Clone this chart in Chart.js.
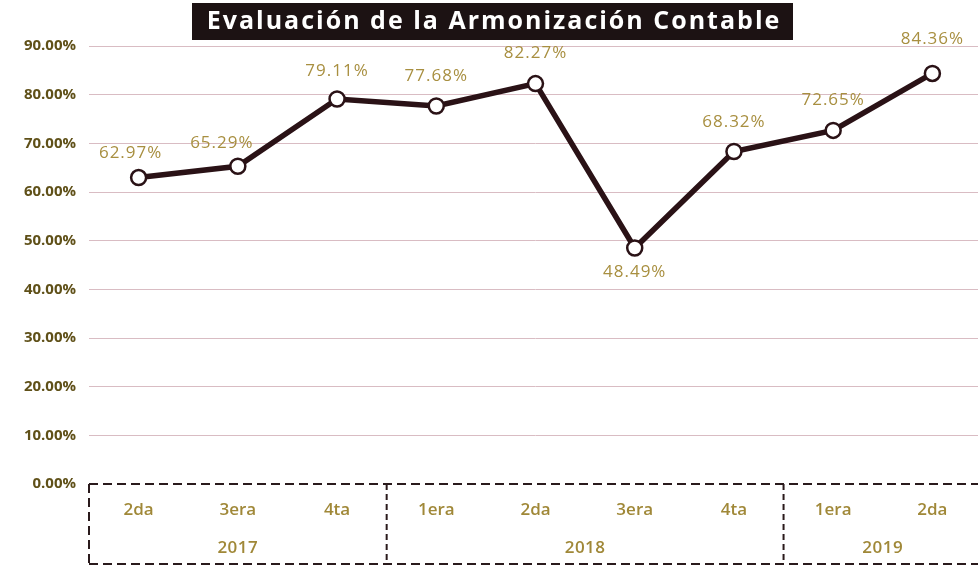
<!DOCTYPE html>
<html><head><meta charset="utf-8">
<script src="https://cdn.jsdelivr.net/npm/chart.js@4/dist/chart.umd.min.js"></script>
<style>html,body{margin:0;padding:0;background:#fff;overflow:hidden}#outer{width:978px;height:572px;overflow:hidden;position:relative}#wrap{width:992px;height:572px;position:relative}</style>
</head><body><div id="outer"><div id="wrap"><canvas id="c"></canvas></div></div>
<script>
const quarters = ['2da','3era','4ta','1era','2da','3era','4ta','1era','2da'];
const yearOfQuarter = ['2017','2017','2017','2018','2018','2018','2018','2019','2019'];
const values = [62.97, 65.29, 79.11, 77.68, 82.27, 48.49, 68.32, 72.65, 84.36];
const valueLabels = ['62.97%','65.29%','79.11%','77.68%','82.27%','48.49%','68.32%','72.65%','84.36%'];
const yTicks = [0,10,20,30,40,50,60,70,80,90];
const title = 'Evaluación de la Armonización Contable';

const FONT = '"Open Sans", "Noto Sans", sans-serif';
const labelOffsets = [[-8,-24],[-16,-23],[0,-28],[0,-30],[0,-30],[0,24],[0,-29],[0,-30],[0,-34]];

const deco = {
  id: 'deco',
  afterDraw(chart) {
    const ctx = chart.ctx, x = chart.scales.x, y = chart.scales.y, ca = chart.chartArea;
    ctx.save();
    ctx.fillStyle = '#1c1213';
    ctx.fillRect(192, 3, 601, 37);
    ctx.font = 'bold 25px ' + FONT;
    ctx.letterSpacing = '2px';
    ctx.fillStyle = '#ffffff';
    ctx.textAlign = 'center'; ctx.textBaseline = 'middle';
    ctx.fillText(title, 494, 22);
    const meta = chart.getDatasetMeta(0);
    ctx.font = '17px ' + FONT;
    ctx.letterSpacing = '1px';
    ctx.fillStyle = '#a88f40';
    meta.data.forEach((pt, i) => {
      const o = labelOffsets[i];
      ctx.fillText(valueLabels[i], pt.x + o[0], pt.y + o[1]);
    });
    ctx.letterSpacing = '0px';
    const top = y.getPixelForValue(0), bottom = 564, left = ca.left, right = chart.width;
    ctx.strokeStyle = '#2a1a1c';
    ctx.lineWidth = 2;
    ctx.setLineDash([9, 5]);
    ctx.beginPath();
    ctx.moveTo(left, top); ctx.lineTo(right, top);
    ctx.moveTo(left, bottom); ctx.lineTo(right, bottom);
    ctx.moveTo(left, top); ctx.lineTo(left, bottom);
    ctx.stroke();
    ctx.setLineDash([6, 4]);
    const groups = [];
    yearOfQuarter.forEach((yr, i) => {
      if (!groups.length || groups[groups.length-1].yr !== yr) groups.push({yr, s: i, e: i});
      else groups[groups.length-1].e = i;
    });
    ctx.beginPath();
    groups.forEach((g, gi) => {
      if (gi > 0) {
        const dx = (x.getPixelForValue(g.s - 1) + x.getPixelForValue(g.s)) / 2;
        ctx.moveTo(dx, top); ctx.lineTo(dx, bottom);
      }
    });
    ctx.stroke();
    ctx.setLineDash([]);
    ctx.font = '600 17px ' + FONT;
    ctx.letterSpacing = '0.5px';
    ctx.fillStyle = '#a08838';
    groups.forEach(g => {
      const gx = (x.getPixelForValue(g.s) + x.getPixelForValue(g.e)) / 2;
      ctx.fillText(g.yr, gx, 548);
    });
    ctx.restore();
  }
};

new Chart(document.getElementById('c'), {
  type: 'line',
  data: {
    labels: quarters,
    datasets: [{
      data: values,
      borderColor: '#2a1216',
      borderWidth: 5.5,
      pointRadius: 7.5,
      pointBorderWidth: 2.5,
      pointBackgroundColor: '#ffffff',
      pointBorderColor: '#2a1216',
      tension: 0,
      clip: false
    }]
  },
  options: {
    responsive: true,
    maintainAspectRatio: false,
    animation: false,
    devicePixelRatio: 1,
    layout: { padding: { top: 46, right: 0, left: 0, bottom: 0 } },
    plugins: { legend: { display: false }, tooltip: { enabled: false } },
    scales: {
      x: {
        offset: true,
        grid: { display: false, drawTicks: false },
        border: { display: false },
        ticks: { color: '#a08838', font: { family: FONT, size: 17, weight: '600' }, padding: 16, maxRotation: 0 },
        afterFit: s => { s.height = 88; }
      },
      y: {
        min: 0, max: 90,
        afterBuildTicks: s => { s.ticks = yTicks.map(v => ({ value: v })); },
        grid: { color: ctx => ctx.tick && ctx.tick.value === 0 ? 'rgba(0,0,0,0)' : '#d9bcc3', lineWidth: 1, drawTicks: false },
        border: { display: false },
        ticks: {
          color: '#5f5018',
          font: { family: FONT, size: 15, weight: 'bold' },
          padding: 13,
          callback: v => v.toFixed(2) + '%'
        },
        afterFit: s => { s.width = 89; }
      }
    }
  },
  plugins: [deco]
});
</script></body></html>
